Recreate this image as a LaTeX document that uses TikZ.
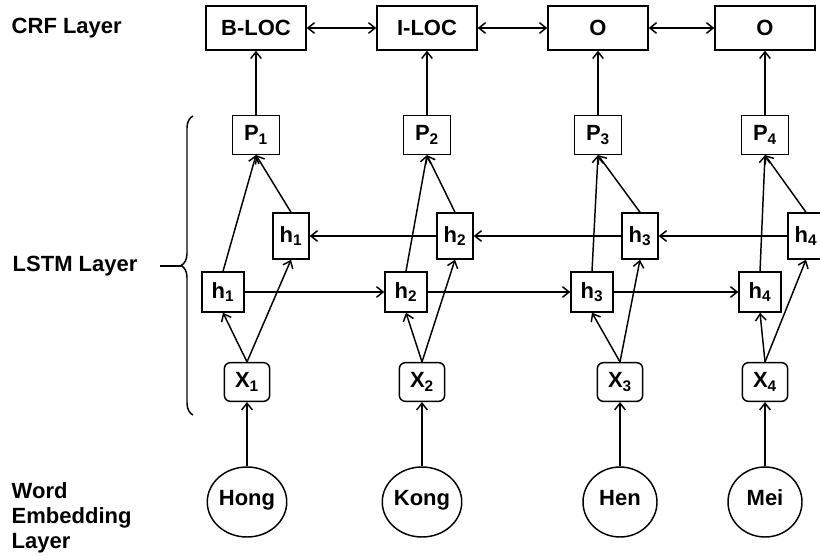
\documentclass[tikz,border=0pt]{standalone}
\usepackage{fontspec}
\setmainfont{Liberation Sans}
\usepackage{tikz}
\usetikzlibrary{positioning,arrows.meta,shapes,decorations.pathreplacing}

\begin{document}
\begin{tikzpicture}[x=0.75pt, y=-0.75pt, line width=1.1pt,
    font=\fontsize{16.5}{18.75}\selectfont\bfseries,
    >={Straight Barb[length=5pt,width=8pt]},
    crf/.style={draw, minimum width=75pt, minimum height=33pt, inner sep=0pt},
    proj/.style={draw, minimum width=35pt, minimum height=29pt, inner sep=0pt},
    hback/.style={draw, minimum width=27pt, minimum height=34.5pt, inner sep=0pt},
    hfwd/.style={draw, minimum width=31.5pt, minimum height=30pt, inner sep=0pt},
    input/.style={draw, rounded corners=4.5pt, minimum width=34pt, minimum height=29pt, inner sep=0pt},
    word/.style={draw, ellipse, minimum width=55.5pt, minimum height=52.5pt, inner sep=0pt,
                 text height=0.72em, text depth=0.21em},
    layer/.style={anchor=west, inner sep=0pt, align=left}]
    \useasboundingbox (0,0) rectangle (820,556);

    % layer names
    \node [layer] (crf_label) at (11,28) {CRF Layer};
    \node [layer] (lstm_label) at (12,266) {LSTM Layer};
    \node [layer, anchor=north west] (emb_label) at (11,482) {Word\\Embedding\\Layer};

    % CRF layer
    \node [crf] (crf_1) at (256,28) {B-LOC};
    \node [crf] (crf_2) at (427,28) {I-LOC};
    \node [crf] (crf_3) at (598,28) {O};
    \node [crf] (crf_4) at (765,28) {O};

    % LSTM layer
    \node [proj] (p_1) at (256,135) {P\textsubscript{1}};
    \node [proj] (p_2) at (427,135) {P\textsubscript{2}};
    \node [proj] (p_3) at (598,135) {P\textsubscript{3}};
    \node [proj] (p_4) at (765,135) {P\textsubscript{4}};

    \node [hback] (h_back_1) at (291,236) {h\textsubscript{1}};
    \node [hback] (h_back_2) at (455,236) {h\textsubscript{2}};
    \node [hback] (h_back_3) at (640,236) {h\textsubscript{3}};
    \node [hback] (h_back_4) at (806,236) {h\textsubscript{4}};

    \node [hfwd] (h_fwd_1) at (223,292) {h\textsubscript{1}};
    \node [hfwd] (h_fwd_2) at (406,292) {h\textsubscript{2}};
    \node [hfwd] (h_fwd_3) at (592,292) {h\textsubscript{3}};
    \node [hfwd] (h_fwd_4) at (760,292) {h\textsubscript{4}};

    \node [input] (x_1) at (247,382) {X\textsubscript{1}};
    \node [input] (x_2) at (422,382) {X\textsubscript{2}};
    \node [input] (x_3) at (620,382) {X\textsubscript{3}};
    \node [input] (x_4) at (765,382) {X\textsubscript{4}};

    % word embedding layer
    \node [word] (w_1) at (247,502) {Hong};
    \node [word] (w_2) at (422,502) {Kong};
    \node [word] (w_3) at (620,502) {Hen};
    \node [word] (w_4) at (765,502) {Mei};

    % CRF transitions
    \draw[<->] (crf_1) -- (crf_2);
    \draw[<->] (crf_2) -- (crf_3);
    \draw[<->] (crf_3) -- (crf_4);

    % emissions
    \draw[->] (p_1.north) -- (crf_1.south);
    \draw[->] (p_2.north) -- (crf_2.south);
    \draw[->] (p_3.north) -- (crf_3.south);
    \draw[->] (p_4.north) -- (crf_4.south);

    % both directions into P
    \draw[->] (h_fwd_1.north) -- (p_1.south);
    \draw[->] (h_back_1.north) -- (p_1.south);
    \draw[->] (h_fwd_2.north) -- (p_2.south);
    \draw[->] (h_back_2.north) -- (p_2.south);
    \draw[->] (h_fwd_3.north) -- (p_3.south);
    \draw[->] (h_back_3.north) -- (p_3.south);
    \draw[->] (h_fwd_4.north) -- (p_4.south);
    \draw[->] (h_back_4.north) -- (p_4.south);

    % backward chain
    \draw[->] (h_back_4.west) -- (h_back_3.east);
    \draw[->] (h_back_3.west) -- (h_back_2.east);
    \draw[->] (h_back_2.west) -- (h_back_1.east);

    % forward chain
    \draw[->] (h_fwd_1.east) -- (h_fwd_2.west);
    \draw[->] (h_fwd_2.east) -- (h_fwd_3.west);
    \draw[->] (h_fwd_3.east) -- (h_fwd_4.west);

    % inputs
    \draw[->] (x_1.north) -- (h_fwd_1.south);
    \draw[->] (x_1.north) -- (h_back_1.south);
    \draw[->] (x_2.north) -- (h_fwd_2.south);
    \draw[->] (x_2.north) -- (h_back_2.south);
    \draw[->] (x_3.north) -- (h_fwd_3.south);
    \draw[->] (x_3.north) -- (h_back_3.south);
    \draw[->] (x_4.north) -- (h_fwd_4.south);
    \draw[->] (x_4.north) -- (h_back_4.south);

    \draw[->] (w_1.north) -- (x_1.south);
    \draw[->] (w_2.north) -- (x_2.south);
    \draw[->] (w_3.north) -- (x_3.south);
    \draw[->] (w_4.north) -- (x_4.south);

    % brace for the LSTM layer
    \draw[decorate, decoration={brace, amplitude=9pt}] (193,415) -- (193,116);
    \draw (160,266) -- (181,266);
\end{tikzpicture}
\end{document}
